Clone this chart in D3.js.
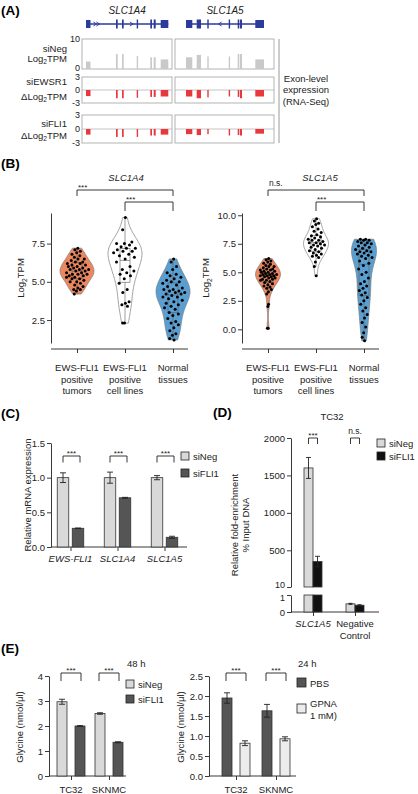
<!DOCTYPE html>
<html><head><meta charset="utf-8">
<script src="https://cdn.jsdelivr.net/npm/d3@7/dist/d3.min.js"></script>
<style>html,body{margin:0;padding:0;background:#fff;}svg{display:block;}</style>
</head><body>
<svg id="fig" width="418" height="794"></svg>
<script>
// ================= DATA =================
// Panel A: exon coordinates (kb from gene start) and exon-level expression
const geneNames = ["SLC1A4", "SLC1A5"];
const a4Exons = [[0,4.5],[30,31.7],[36,37.7],[50.7,52],[64.3,66],[67.7,69.7],[74.7,82.3]];
const a5Exons = [[0,6.3],[10.7,15],[21.3,22.7],[42.7,44],[51.7,53.3],[54,56],[69.3,78]];
const a4Arrows = [9, 12, 45.5];   // strand chevrons (+)
const a5Arrows = [34];            // strand chevrons (-)
const a4SiNeg   = [2.5, 5.0, 5.0, 4.3, 3.9, 3.9, 3.2];
const a5SiNeg   = [3.9, 4.7, 4.2, 4.2, 5.0, 5.0, 3.2];
const a4SiEWSR1 = [-1.4, -1.9, -1.9, -1.8, -1.6, -1.6, -1.5];
const a5SiEWSR1 = [-1.5, -1.9, -1.7, -1.5, -1.6, -1.9, -1.5];
const a4SiFLI1  = [-1.2, -1.7, -1.7, -1.7, -1.4, -1.4, -1.2];
const a5SiFLI1  = [-1.1, -1.3, -1.1, -1.4, -1.3, -1.4, -1.0];
const aRowLabels = [["siNeg", ["Log", {sub:"2"}, "TPM"]], ["siEWSR1", ["\u0394Log", {sub:"2"}, "TPM"]], ["siFLI1", ["\u0394Log", {sub:"2"}, "TPM"]]];
const aRowTicks = [[0, 10], [-3, 0, 3], [-3, 0, 3]];

// Panel B: Log2TPM per sample
const bGroups = ["tumors", "cell lines", "normal"];
const bGroupLabels = [["EWS-FLI1","positive","tumors"],["EWS-FLI1","positive","cell lines"],["Normal","tissues"]];
const b4Tumor = [7.2,7.1,7.0,6.9,6.8,6.7,6.6,6.5,6.5,6.4,6.3,6.3,6.2,6.2,6.1,6.1,6.0,6.0,5.9,5.9,5.8,5.8,5.8,5.7,5.7,5.6,5.6,5.5,5.5,5.5,5.4,5.4,5.3,5.3,5.2,5.2,5.1,5.0,5.0,4.9,4.8,4.7,4.6,4.5,4.5,4.4,4.2];
const b4Cell  = [9.2,8.4,7.6,7.5,7.5,7.4,7.3,7.2,7.2,7.1,7.0,7.0,6.9,6.8,6.7,6.6,6.5,6.3,6.0,5.8,5.7,5.6,5.5,5.4,5.2,4.9,4.5,4.3,3.7,3.6,3.5,3.4,2.3,2.3];
const b4Normal= [6.5,6.3,6.0,5.8,5.6,5.5,5.4,5.3,5.2,5.1,5.0,5.0,4.9,4.8,4.7,4.6,4.5,4.5,4.4,4.4,4.3,4.3,4.2,4.2,4.1,4.0,4.0,3.9,3.8,3.7,3.6,3.5,3.4,3.3,3.2,3.0,2.9,2.8,2.6,2.4,2.3,2.2,2.0,1.8,1.6,1.5,1.3,1.2];
const b5Tumor = [6.2,6.1,6.0,5.9,5.8,5.7,5.6,5.5,5.5,5.4,5.3,5.3,5.2,5.2,5.1,5.1,5.0,5.0,4.9,4.9,4.8,4.8,4.8,4.7,4.7,4.7,4.6,4.6,4.5,4.5,4.4,4.4,4.3,4.3,4.2,4.1,4.0,3.9,3.8,3.7,3.6,3.5,3.3,3.1,2.2,2.0,0.1,0.1];
const b5Cell  = [9.7,9.5,9.3,9.2,9.0,8.8,8.6,8.5,8.3,8.2,8.1,8.0,7.9,7.8,7.8,7.7,7.6,7.6,7.5,7.4,7.4,7.3,7.2,7.1,7.0,6.9,6.8,6.7,6.6,6.5,6.4,6.3,5.9,5.5,4.7];
const b5Normal= [7.9,7.9,7.8,7.8,7.7,7.6,7.6,7.5,7.4,7.3,7.2,7.1,7.0,6.9,6.8,6.8,6.7,6.6,6.5,6.4,6.3,6.2,6.0,5.8,5.6,5.3,5.0,4.8,4.5,4.2,4.0,3.8,3.6,3.4,3.2,3.0,2.8,2.5,2.2,1.9,1.6,1.3,1.0,0.6,0.2,-0.3,-0.7,-1.0];
const b4Ticks = [2.5, 5.0, 7.5];
const b5Ticks = [0, 2.5, 5.0, 7.5, 10.0];

// Panel C: qPCR relative mRNA expression
const cGenes = ["EWS-FLI1", "SLC1A4", "SLC1A5"];
const cSiNeg = [1.00, 1.00, 1.00];
const cSiNegErr = [0.07, 0.08, 0.03];
const cSiFLI1 = [0.27, 0.71, 0.14];
const cSiFLI1Err = [0.004, 0.006, 0.015];
const cTicks = [0, 0.5, 1.0, 1.5];

// Panel D: ChIP fold-enrichment (% input DNA), TC32
const dGroups = ["SLC1A5", "Negative Control"];
const dSiNeg = [1600, 0.48];
const dSiNegErr = [140, 0.03];
const dSiFLI1 = [350, 0.40];
const dSiFLI1Err = [70, 0.03];
const dUpperTicks = [10, 500, 1000, 1500, 2000];
const dLowerTicks = [0, 1];

// Panel E: glycine (nmol/ul)
const eCells = ["TC32", "SKNMC"];
const eSiNeg = [2.97, 2.50];
const eSiNegErr = [0.10, 0.03];
const eSiFLI1 = [2.00, 1.35];
const eSiFLI1Err = [0.015, 0.02];
const ePBS = [1.95, 1.63];
const ePBSErr = [0.13, 0.16];
const eGPNA = [0.82, 0.93];
const eGPNAErr = [0.06, 0.05];
const eLeftTicks = [0, 1, 2, 3, 4];
const eRightTicks = [0, 0.5, 1.0, 1.5, 2.0, 2.5];

// ================= DRAWING =================
const svg = d3.select("#fig");
const F = '"Liberation Sans", Arial, Helvetica, sans-serif';
const INK = "#222";
const C_LIGHT = "#d9d9d9", C_DARK = "#555555", C_BLACK = "#111111", C_PALE = "#ececec";
const C_ORANGE = "#ec8760", C_BLUE = "#5a9fd2", C_GENE = "#2b3a9b", C_RED = "#e8383d", C_AGRAY = "#c9c9c9";

function T(parent, x, y, content, o = {}) {
  const size = o.size || 9.5;
  const t = parent.append("text").attr("x", x).attr("y", y)
    .attr("font-family", F).attr("font-size", size)
    .attr("fill", o.fill || INK).attr("text-anchor", o.anchor || "start");
  if (o.weight) t.attr("font-weight", o.weight);
  if (o.italic) t.attr("font-style", "italic");
  if (o.rotate != null) t.attr("transform", `rotate(${o.rotate},${x},${y})`);
  const parts = Array.isArray(content) ? content : [content];
  const sh = size * 0.28;
  let shifted = false;
  parts.forEach(p => {
    if (typeof p === "string") {
      const s = t.append("tspan").text(p);
      if (shifted) { s.attr("dy", -sh); shifted = false; }
    } else {
      t.append("tspan").attr("dy", sh).attr("font-size", size * 0.7).text(p.sub);
      shifted = true;
    }
  });
  return t;
}
function line(g, x1, y1, x2, y2, o = {}) {
  return g.append("line").attr("x1", x1).attr("y1", y1).attr("x2", x2).attr("y2", y2)
    .attr("stroke", o.stroke || INK).attr("stroke-width", o.w || 0.9);
}
function styleAxis(gg) {
  gg.selectAll("text").attr("font-family", F).attr("font-size", 9.5).attr("fill", INK);
  gg.selectAll("line,path").attr("stroke", INK).attr("stroke-width", 0.9);
}
function yAxis(g, x, scale, ticks, fmt) {
  const ax = d3.axisLeft(scale).tickValues(ticks).tickFormat(fmt).tickSize(4).tickSizeOuter(0).tickPadding(2);
  const gg = g.append("g").attr("transform", `translate(${x},0)`).call(ax);
  styleAxis(gg);
  return gg;
}
function xTicks(g, y, scale, x0, x1) {
  line(g, x0, y, x1, y);
  const ax = d3.axisBottom(scale).tickSize(4).tickFormat("");
  const gg = g.append("g").attr("transform", `translate(0,${y})`).call(ax);
  gg.select(".domain").remove();
  styleAxis(gg);
}
function bracket(g, x1, x2, yTop, yL, yR, label, o = {}) {
  g.append("path").attr("d", `M${x1},${yL}V${yTop}H${x2}V${yR}`)
    .attr("fill", "none").attr("stroke", INK).attr("stroke-width", 0.9);
  const ns = label === "n.s.";
  const tx = o.left ? x1 + 1 : (x1 + x2) / 2;
  T(g, tx, ns ? yTop - 4 : yTop - 0.5, label, { size: ns ? 8.5 : 8, anchor: o.left ? "start" : "middle" });
}
function errBar(g, cx, yLo, yHi, cap = 3) {
  line(g, cx, yLo, cx, yHi, { w: 0.9 });
  line(g, cx - cap, yHi, cx + cap, yHi, { w: 0.9 });
  line(g, cx - cap, yLo, cx + cap, yLo, { w: 0.9 });
}
function legendBox(g, x, y, size, fill, label, ly) {
  g.append("rect").attr("x", x).attr("y", y).attr("width", size).attr("height", size)
    .attr("fill", fill).attr("stroke", INK).attr("stroke-width", 0.8);
  if (label) T(g, x + size + 4, ly, label);
}

// ---------- Panel A ----------
const gA = svg.append("g");
T(gA, 1, 15, "(A)", { size: 13.5, weight: "bold", fill: "#000" });
const aX = [d3.scaleLinear([-4, 86], [82, 172]), d3.scaleLinear([-11, 88], [175, 274])];
const aExons = [a4Exons, a5Exons];
const aArrows = [a4Arrows, a5Arrows];
const aStrand = [1, -1];
const aVals = [[a4SiNeg, a5SiNeg], [a4SiEWSR1, a5SiEWSR1], [a4SiFLI1, a5SiFLI1]];
const aRowBoxes = [[39, 69], [77, 103], [115, 143]];
const aRowDomains = [[0, 10], [-3, 3], [-3, 3]];
geneNames.forEach((gname, gi) => {
  const xs = aX[gi];
  const ex = aExons[gi];
  const [d0, d1] = xs.domain();
  T(gA, xs((ex[0][0] + ex[ex.length - 1][1]) / 2), 13.5, gname, { size: 10, italic: true, anchor: "middle" });
  line(gA, xs(ex[0][0]), 24, xs(ex[ex.length - 1][1]), 24, { stroke: C_GENE, w: 1.3 });
  ex.forEach((e, i) => {
    const isEnd = (i === 0 || i === ex.length - 1);
    const h = isEnd ? 8 : 9;
    gA.append("rect").attr("x", xs(e[0])).attr("y", 24 - h / 2)
      .attr("width", Math.max(1.4, xs(e[1]) - xs(e[0]))).attr("height", h).attr("fill", C_GENE);
  });
  aArrows[gi].forEach(a => {
    const x = xs(a), s = aStrand[gi] * 1.6;
    gA.append("path").attr("d", `M${x - s},${22}L${x + s},${24}L${x - s},${26}`)
      .attr("fill", "none").attr("stroke", C_GENE).attr("stroke-width", 0.9);
  });
  aRowBoxes.forEach((box, ri) => {
    const ys = d3.scaleLinear(aRowDomains[ri], [box[1], box[0]]);
    gA.append("rect").attr("x", xs(d0)).attr("y", box[0])
      .attr("width", xs(d1) - xs(d0)).attr("height", box[1] - box[0])
      .attr("fill", "none").attr("stroke", "#aaa").attr("stroke-width", 0.9);
    if (ri > 0) line(gA, xs(d0), ys(0), xs(d1), ys(0), { stroke: "#b5b5b5", w: 0.8 });
    aVals[ri][gi].forEach((v, i) => {
      const e = ex[i];
      gA.append("rect").attr("x", xs(e[0])).attr("width", Math.max(1.4, xs(e[1]) - xs(e[0])))
        .attr("y", Math.min(ys(0), ys(v))).attr("height", Math.abs(ys(v) - ys(0)))
        .attr("fill", ri === 0 ? C_AGRAY : C_RED);
    });
    if (gi === 0) {
      aRowTicks[ri].forEach(t => T(gA, 80, ys(t) + 3.3 + (t === 0 && ri === 0 ? -1 : 0), String(t), { anchor: "end", size: 9 }));
    }
  });
});
const aLabelY = [[51.5, 61.5], [85, 99.5], [127, 138.5]];
aRowLabels.forEach((lab, ri) => {
  T(gA, 67, aLabelY[ri][0], lab[0], { anchor: "end" });
  T(gA, 67, aLabelY[ri][1], lab[1], { anchor: "end" });
});
line(gA, 279, 39, 279, 143, { stroke: "#999", w: 1 });
["Exon-level", "expression", "(RNA-Seq)"].forEach((s, i) => T(gA, 306, 81.5 + i * 11.5, s, { anchor: "middle" }));

// ---------- Panel B ----------
const gB = svg.append("g");
T(gB, 1, 168, "(B)", { size: 13.5, weight: "bold", fill: "#000" });
function gauss(u) { return Math.exp(-0.5 * u * u) / Math.sqrt(2 * Math.PI); }
function violinPanel(cfg) {
  const y = d3.scaleLinear(cfg.domain, [343, 213]);
  const x = d3.scalePoint(bGroups, cfg.xr);
  yAxis(gB, cfg.ax, y, cfg.ticks, d3.format(".1f"));
  xTicks(gB, 349, x, cfg.ax, cfg.axEnd);
  cfg.data.forEach((vals, gi) => {
    const cx = x(bGroups[gi]);
    const n = vals.length, sd = d3.deviation(vals);
    const bw = 1.06 * sd * Math.pow(n, -0.2) * cfg.bwAdj;
    const dens = v => d3.mean(vals, d => gauss((v - d) / bw)) / bw;
    const mn = d3.min(vals), mx = d3.max(vals);
    const grid = d3.range(81).map(i => mn + (mx - mn) * i / 80);
    const pts = grid.map(v => [v, dens(v)]);
    const dmax = d3.max(pts, p => p[1]);
    const wS = d => d / dmax * cfg.halfW;
    gB.append("path").datum(pts)
      .attr("d", d3.area().x0(p => cx - wS(p[1])).x1(p => cx + wS(p[1])).y(p => y(p[0])).curve(d3.curveBasis))
      .attr("fill", cfg.fills[gi]).attr("stroke", "#7a7a7a").attr("stroke-width", 0.7);
    const s = vals.slice().sort(d3.ascending);
    const q1 = d3.quantile(s, 0.25), q2 = d3.quantile(s, 0.5), q3 = d3.quantile(s, 0.75);
    const iqr = q3 - q1;
    const lo = d3.min(s.filter(v => v >= q1 - 1.5 * iqr)), hi = d3.max(s.filter(v => v <= q3 + 1.5 * iqr));
    const bwid = 5;
    const bs = { stroke: "#5a5a5a", w: 0.6 };
    line(gB, cx, y(lo), cx, y(q1), bs);
    line(gB, cx, y(q3), cx, y(hi), bs);
    gB.append("rect").attr("x", cx - bwid).attr("y", y(q3)).attr("width", bwid * 2).attr("height", y(q1) - y(q3))
      .attr("fill", "none").attr("stroke", "#5a5a5a").attr("stroke-width", 0.6);
    line(gB, cx - bwid, y(q2), cx + bwid, y(q2), bs);
    vals.forEach((v, i) => {
      const f = ((i + 1) * 0.6180339887) % 1;
      const off = (f - 0.5) * 2 * 0.72 * wS(dens(v));
      gB.append("circle").attr("cx", cx + off).attr("cy", y(v)).attr("r", 1.5).attr("fill", "#000");
    });
  });
  bGroupLabels.forEach((lines, gi) => {
    lines.forEach((s, li) => T(gB, x(bGroups[gi]), 371 + li * 11.5, s, { anchor: "middle" }));
  });
  T(gB, cfg.ylx, 278, ["Log", { sub: "2" }, "TPM"], { anchor: "middle", rotate: -90 });
  T(gB, (x(bGroups[0]) + x(bGroups[2])) / 2 + cfg.titleDx, 180.5, cfg.title, { italic: true, anchor: "middle" });
  bracket(gB, x(bGroups[0]), x(bGroups[2]), 190, 196, 196, cfg.sig[0], { left: true });
  bracket(gB, x(bGroups[1]), x(bGroups[2]), 202, 211, 211, cfg.sig[1], { left: true });
}
violinPanel({ domain: [1, 9.5], xr: [77, 173], ax: 51, axEnd: 188, ticks: b4Ticks, halfW: 17, bwAdj: 0.9,
  data: [b4Tumor, b4Cell, b4Normal], fills: [C_ORANGE, "#ffffff", C_BLUE], ylx: 24, title: "SLC1A4", titleDx: 1,
  sig: ["***", "***"] });
violinPanel({ domain: [-1.2, 10.2], xr: [268, 364], ax: 242, axEnd: 379, ticks: b5Ticks, halfW: 12.5, bwAdj: 0.85,
  data: [b5Tumor, b5Cell, b5Normal], fills: [C_ORANGE, "#ffffff", C_BLUE], ylx: 209, title: "SLC1A5", titleDx: 4,
  sig: ["n.s.", "***"] });

// ---------- Panel C ----------
const gC = svg.append("g");
T(gC, 1, 418, "(C)", { size: 13.5, weight: "bold", fill: "#000" });
{
  const y = d3.scaleLinear([0, 1.5], [547, 443]);
  const x = d3.scaleBand(cGenes, [47, 188]);
  yAxis(gC, 51, y, cTicks, d3.format(".1f"));
  const xc = g => x(g) + x.bandwidth() / 2;
  xTicks(gC, 547, d3.scalePoint(cGenes, [xc(cGenes[0]), xc(cGenes[2])]), 51, 187);
  const bw = 11.5, off = 7.5;
  const series = [[cSiNeg, cSiNegErr, C_LIGHT, -off], [cSiFLI1, cSiFLI1Err, C_DARK, off]];
  cGenes.forEach((g, i) => {
    series.forEach(([v, e, fill, o]) => {
      const cx = xc(g) + o;
      gC.append("rect").attr("x", cx - bw / 2).attr("y", y(v[i])).attr("width", bw).attr("height", y(0) - y(v[i]))
        .attr("fill", fill).attr("stroke", "#333").attr("stroke-width", 0.8);
      errBar(gC, cx, y(v[i] - e[i]), y(v[i] + e[i]), 3);
    });
    bracket(gC, xc(g) - off, xc(g) + off + 2, 456, 462.5, 462.5, "***");
    T(gC, xc(g), 562, g, { italic: true, anchor: "middle" });
  });
  T(gC, 31, 495, "Relative mRNA expression", { anchor: "middle", rotate: -90 });
  legendBox(gC, 181, 452, 8, C_LIGHT, "siNeg", 460);
  legendBox(gC, 181, 469, 8, C_DARK, "siFLI1", 477);
}

// ---------- Panel D ----------
const gD = svg.append("g");
T(gD, 213, 417, "(D)", { size: 13.5, weight: "bold", fill: "#000" });
{
  const yU = d3.scaleLinear([10, 2000], [587, 438]);
  const yL = d3.scaleLinear([0, 1], [612, 595]);
  const x = d3.scaleBand(dGroups, [292, 376]);
  const xc = g => x(g) + x.bandwidth() / 2;
  const up = yAxis(gD, 291, yU, dUpperTicks, d3.format("d"));
  const lo = yAxis(gD, 291, yL, dLowerTicks, d3.format("d"));
  up.selectAll(".tick text").filter(d => d === 10).attr("dy", "0.1em").attr("font-size", 9);
  lo.selectAll(".tick text").filter(d => d === 1).attr("dy", "0.62em").attr("font-size", 9);
  xTicks(gD, 612, d3.scalePoint(dGroups, [xc(dGroups[0]), xc(dGroups[1])]), 291, 379);
  const bw = 9, off = 4.5;
  const series = [[dSiNeg, dSiNegErr, C_LIGHT, -off], [dSiFLI1, dSiFLI1Err, C_BLACK, off]];
  dGroups.forEach((g, i) => {
    series.forEach(([v, e, fill, o]) => {
      const cx = xc(g) + o;
      const rect = (y0, y1) => gD.append("rect").attr("x", cx - bw / 2).attr("y", y1).attr("width", bw)
        .attr("height", y0 - y1).attr("fill", fill).attr("stroke", "#333").attr("stroke-width", 0.8);
      if (v[i] > 1) {
        rect(yL(0), yL(1));
        rect(yU(10), yU(v[i]));
        errBar(gD, cx, yU(v[i] - e[i]), yU(v[i] + e[i]), 2.5);
      } else {
        rect(yL(0), yL(v[i]));
        errBar(gD, cx, yL(v[i] - e[i]), yL(v[i] + e[i]), 2);
      }
    });
  });
  bracket(gD, xc(dGroups[0]) - off, xc(dGroups[0]) + off, 438, 444, 444, "***");
  bracket(gD, xc(dGroups[1]) - off, xc(dGroups[1]) + off, 438, 444, 444, "n.s.");
  T(gD, xc(dGroups[0]), 627, "SLC1A5", { italic: true, anchor: "middle" });
  T(gD, xc(dGroups[1]), 627, "Negative", { anchor: "middle" });
  T(gD, xc(dGroups[1]), 639, "Control", { anchor: "middle" });
  T(gD, 332, 420, "TC32", { anchor: "middle" });
  T(gD, 238, 525, "Relative fold-enrichment", { anchor: "middle", rotate: -90 });
  T(gD, 249, 525, "% Input DNA", { anchor: "middle", rotate: -90 });
  legendBox(gD, 377, 439, 8, C_LIGHT, "siNeg", 446.5);
  legendBox(gD, 377, 452, 8, C_BLACK, "siFLI1", 459.5);
}

// ---------- Panel E ----------
const gE = svg.append("g");
T(gE, 1, 653, "(E)", { size: 13.5, weight: "bold", fill: "#000" });
function ePanel(cfg) {
  const y = d3.scaleLinear([0, cfg.max], [776, 676]);
  const x = d3.scaleBand(eCells, cfg.xr);
  const xc = g => x(g) + x.bandwidth() / 2;
  yAxis(gE, cfg.ax, y, cfg.ticks, cfg.fmt);
  xTicks(gE, 776, d3.scalePoint(eCells, [xc(eCells[0]), xc(eCells[1])]), cfg.ax, cfg.axEnd);
  const bw = 10, off = 9;
  eCells.forEach((g, i) => {
    cfg.series.forEach(([v, e, fill], si) => {
      const cx = xc(g) + (si === 0 ? -off : off);
      gE.append("rect").attr("x", cx - bw / 2).attr("y", y(v[i])).attr("width", bw).attr("height", y(0) - y(v[i]))
        .attr("fill", fill).attr("stroke", "#333").attr("stroke-width", 0.8);
      errBar(gE, cx, y(v[i] - e[i]), y(v[i] + e[i]), 3);
    });
    bracket(gE, xc(g) - off - 1, xc(g) + off + 1, 673, 681, 681, "***");
    T(gE, xc(g), 793, g, { anchor: "middle" });
  });
  T(gE, cfg.ylx, 727, "Glycine (nmol/\u03bcl)", { anchor: "middle", rotate: -90 });
  T(gE, cfg.timeX, 667, cfg.time);
}
ePanel({ max: 4, xr: [52, 128], ax: 49, axEnd: 126, ticks: eLeftTicks, fmt: d3.format("d"), ylx: 23,
  series: [[eSiNeg, eSiNegErr, C_LIGHT], [eSiFLI1, eSiFLI1Err, C_DARK]], time: "48 h", timeX: 127 });
legendBox(gE, 126, 680, 8, C_LIGHT, "siNeg", 687.5);
legendBox(gE, 126, 695, 8, C_DARK, "siFLI1", 702.5);
ePanel({ max: 2.5, xr: [216, 296], ax: 209, axEnd: 296, ticks: eRightTicks, fmt: d3.format(".1f"), ylx: 184,
  series: [[ePBS, ePBSErr, C_DARK], [eGPNA, eGPNAErr, C_PALE]], time: "24 h", timeX: 298 });
legendBox(gE, 297, 678, 9, C_DARK, "PBS", 687);
legendBox(gE, 297, 704, 9, C_PALE, null, 0);
T(gE, 310, 707, "GPNA");
T(gE, 310, 719, "1 mM)");
</script>
</body></html>
